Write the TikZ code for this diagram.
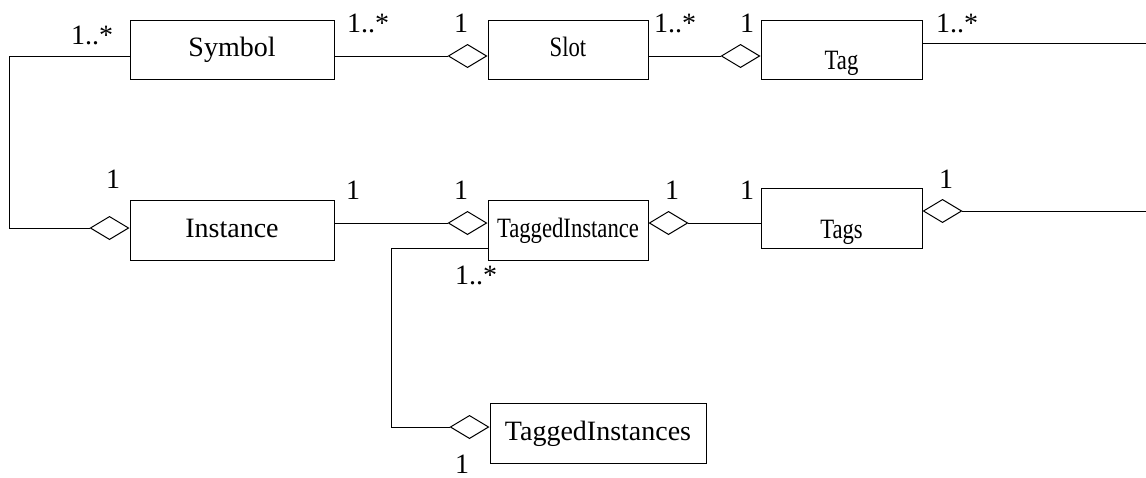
\documentclass[tikz,border=0pt]{standalone}
\usepackage{fontspec}
\setmainfont{Liberation Serif}
\usepackage{graphicx}
\usetikzlibrary{arrows.meta}
\newcommand{\squeeze}[1]{\scalebox{0.81}[1]{#1}}

\begin{document}
\begin{tikzpicture}[x=1pt,y=-1pt,
    every node/.style={font=\fontsize{28}{32}\selectfont},
    cls/.style={draw, line width=1pt, inner sep=0pt, text height=20pt, text depth=6pt},
    low/.style={text height=46pt},
    mult/.style={anchor=base, inner sep=0pt},
    agg/.style={line width=1pt, -{Diamond[open, length=40pt, width=24pt]}}]
        \useasboundingbox (0,0) rectangle (1146,477);
        % classes
        \node[cls, minimum width=204pt, minimum height=59pt] (symbol) at (232,49.5) {Symbol};
        \node[cls, minimum width=160pt, minimum height=59pt] (slot) at (568,49.5) {\squeeze{Slot}};
        \node[cls, low, minimum width=161pt, minimum height=59pt] (tag) at (841.5,49.5) {\squeeze{Tag}};
        \node[cls, minimum width=204pt, minimum height=60pt] (inst) at (232,230) {Instance};
        \node[cls, minimum width=160pt, minimum height=60pt] (ti) at (568,230) {\squeeze{TaggedInstance}};
        \node[cls, low, minimum width=161pt, minimum height=60pt] (tags) at (841.5,218) {\squeeze{Tags}};
        \node[cls, minimum width=216pt, minimum height=60pt] (tis) at (598,433) {TaggedInstances};
        \coordinate (tagend) at (1146,43);
        \coordinate (tagsend) at (1146,211);
        % associations
        \draw[agg] ([yshift=-6.5pt]symbol.east) -- ([yshift=-6.5pt]slot.west);
        \draw[agg] ([yshift=-6.5pt]slot.east) -- ([yshift=-6.5pt]tag.west);
        \draw[line width=1pt] ([yshift=6.5pt]tag.east) -- (tagend);
        \draw[agg] ([yshift=-6.5pt]symbol.west) -- ++(-120,0) |- ([yshift=2pt]inst.west);
        \draw[agg] ([yshift=7pt]inst.east) -- ([yshift=7pt]ti.west);
        \draw[agg] ([yshift=-5pt]tags.west) -- ([yshift=-5pt]tags.west -| ti.east);
        \draw[agg] (tagsend) -- ([yshift=7pt]tags.east);
        \draw[agg] ([yshift=12pt]ti.south west) -- ++(-96,0) |- ([yshift=6pt]tis.west);
        % multiplicities
        \node[mult] (symL) at (92,44) {1..*};
        \node[mult] (symR) at (368,32) {1..*};
        \node[mult] (slotL) at (461,32) {1};
        \node[mult] (slotR) at (675,32) {1..*};
        \node[mult] (tagL) at (747,32) {1};
        \node[mult] (tagR) at (957,32) {1..*};
        \node[mult] (instL) at (113,188) {1};
        \node[mult] (instR) at (353,199) {1};
        \node[mult] (tiL) at (461,199) {1};
        \node[mult] (tiR) at (672,199) {1};
        \node[mult] (tagsL) at (747,199) {1};
        \node[mult] (tagsR) at (946,188) {1};
        \node[mult] (tiB) at (476,284) {1..*};
        \node[mult] (tisB) at (462,473) {1};
    \end{tikzpicture}
\end{document}
